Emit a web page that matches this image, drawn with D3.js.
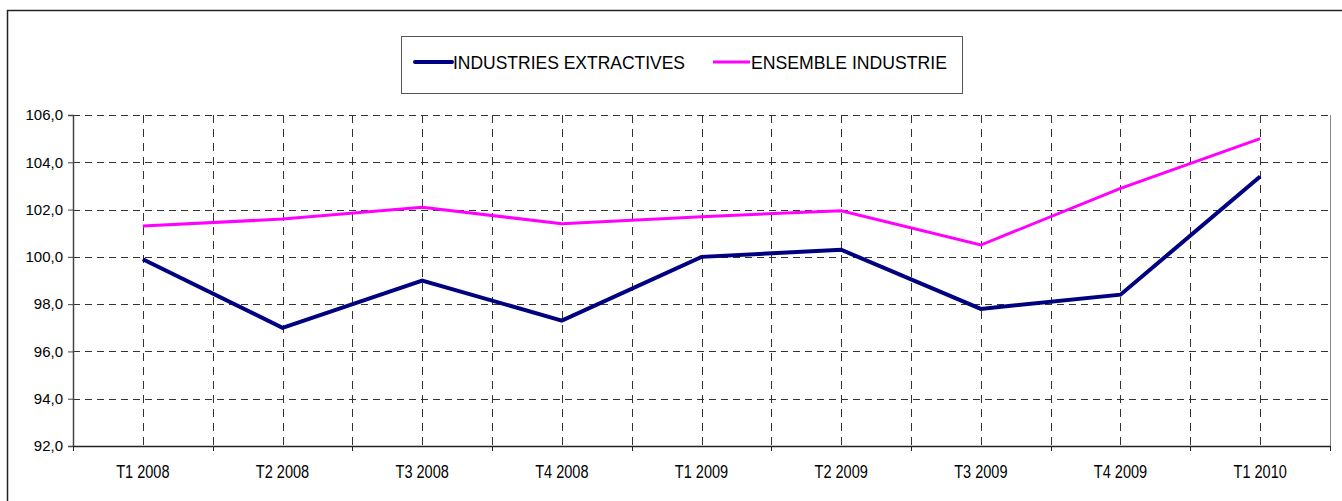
<!DOCTYPE html>
<html><head><meta charset="utf-8">
<script src="https://cdn.jsdelivr.net/npm/d3@7"></script>
<style>body{margin:0;background:#fff}svg{display:block}text{font-family:"Liberation Sans",Arial,sans-serif;fill:#000}</style>
</head><body><svg id="c" width="1342" height="501"></svg>
<script>
const categories = ["T1 2008","T2 2008","T3 2008","T4 2008","T1 2009","T2 2009","T3 2009","T4 2009","T1 2010"];
const extractives = [99.9, 97.0, 99.0, 97.3, 100.0, 100.3, 97.8, 98.4, 103.4];
const ensemble = [101.3, 101.6, 102.1, 101.4, 101.7, 101.95, 100.5, 102.9, 105.0];
const yTicks = [92, 94, 96, 98, 100, 102, 104, 106];
const seriesNames = ["INDUSTRIES EXTRACTIVES", "ENSEMBLE INDUSTRIE"];
const seriesColors = ["#000080", "#FF00FF"];

const svg = d3.select("#c");
const L = 73, R = 1330, T = 115, B = 446;
const x = d3.scaleBand().domain(categories).range([L, R]);
const y = d3.scaleLinear().domain([92, 106]).range([B, T]);
const fmt = v => d3.format(".1f")(v).replace(".", ",");

// outer frame
svg.append("path").attr("d", `M7.5,${501+2} L7.5,10.5 L${1342+2},10.5`).attr("fill","none").attr("stroke","#222").attr("stroke-width",1.5);

// horizontal grid
svg.append("g").selectAll("line").data(yTicks.filter(v => v > 92)).join("line")
  .attr("x1", L).attr("x2", R).attr("y1", d => Math.round(y(d)) + 0.5).attr("y2", d => Math.round(y(d)) + 0.5)
  .attr("stroke", "#333").attr("stroke-dasharray", "7,5");

// vertical grid: category centres and boundaries
const vlines = [];
categories.forEach((c, i) => { vlines.push(x(c) + x.bandwidth()/2); if (i > 0) vlines.push(x(c)); });
svg.append("g").selectAll("line").data(vlines).join("line")
  .attr("x1", d => Math.round(d) + 0.5).attr("x2", d => Math.round(d) + 0.5).attr("y1", T).attr("y2", B)
  .attr("stroke", "#333").attr("stroke-dasharray", "8,6");

// right border
svg.append("line").attr("x1", R + 0.5).attr("x2", R + 0.5).attr("y1", T).attr("y2", B).attr("stroke", "#888");

// y axis
const ya = svg.append("g").attr("transform", `translate(${L},0)`)
  .call(d3.axisLeft(y).tickValues(yTicks).tickFormat(fmt).tickSize(5).tickPadding(5));
ya.select(".domain").attr("stroke", "#444").attr("stroke-width", 1.5);
ya.selectAll(".tick line").attr("stroke", "#444");
ya.selectAll("text").attr("font-size", 15).attr("font-family", '"Liberation Sans",Arial,sans-serif').attr("fill","#000");

// x axis
const xa = svg.append("g").attr("transform", `translate(0,${B})`)
  .call(d3.axisBottom(x).tickSize(0).tickPadding(0));
xa.select(".domain").attr("stroke", "#222").attr("stroke-width", 1.5);
xa.selectAll("text").attr("font-size", 17.5).attr("dy", null).attr("y", 31.7)
  .attr("font-family", '"Liberation Sans",Arial,sans-serif').attr("fill","#000")
  .each(function(){ const w = this.getComputedTextLength(); d3.select(this).attr("textLength", w * 0.83).attr("lengthAdjust","spacingAndGlyphs"); });
svg.append("g").selectAll("line").data([L, ...categories.slice(1).map(c => x(c)), R]).join("line")
  .attr("x1", d => Math.round(d) + 0.5).attr("x2", d => Math.round(d) + 0.5).attr("y1", B).attr("y2", B + 5)
  .attr("stroke", "#222");

// lines
const line = d3.line().x((d, i) => x(categories[i]) + x.bandwidth()/2).y(d => y(d));
svg.append("path").datum(ensemble).attr("d", line).attr("fill","none").attr("stroke", seriesColors[1]).attr("stroke-width", 3).attr("stroke-linejoin","miter");
svg.append("path").datum(extractives).attr("d", line).attr("fill","none").attr("stroke", seriesColors[0]).attr("stroke-width", 4).attr("stroke-linejoin","miter");

// legend
const lg = svg.append("g");
lg.append("rect").attr("x", 401.5).attr("y", 36.5).attr("width", 561).attr("height", 57).attr("fill","#fff").attr("stroke","#555").attr("stroke-width",1);
const legX = [415, 713];
const legW = [232, 196];
seriesNames.forEach((n, i) => {
  lg.append("line").attr("x1", legX[i]).attr("x2", legX[i] + 37).attr("y1", 62).attr("y2", 62)
    .attr("stroke", seriesColors[i]).attr("stroke-width", i === 0 ? 4 : 3).attr("stroke-linecap", i === 0 ? "round" : "butt");
  lg.append("text").attr("x", legX[i] + 38).attr("y", 68.5).attr("font-size", 18.5)
    .attr("textLength", legW[i]).attr("lengthAdjust", "spacingAndGlyphs").text(n);
});
</script></body></html>
